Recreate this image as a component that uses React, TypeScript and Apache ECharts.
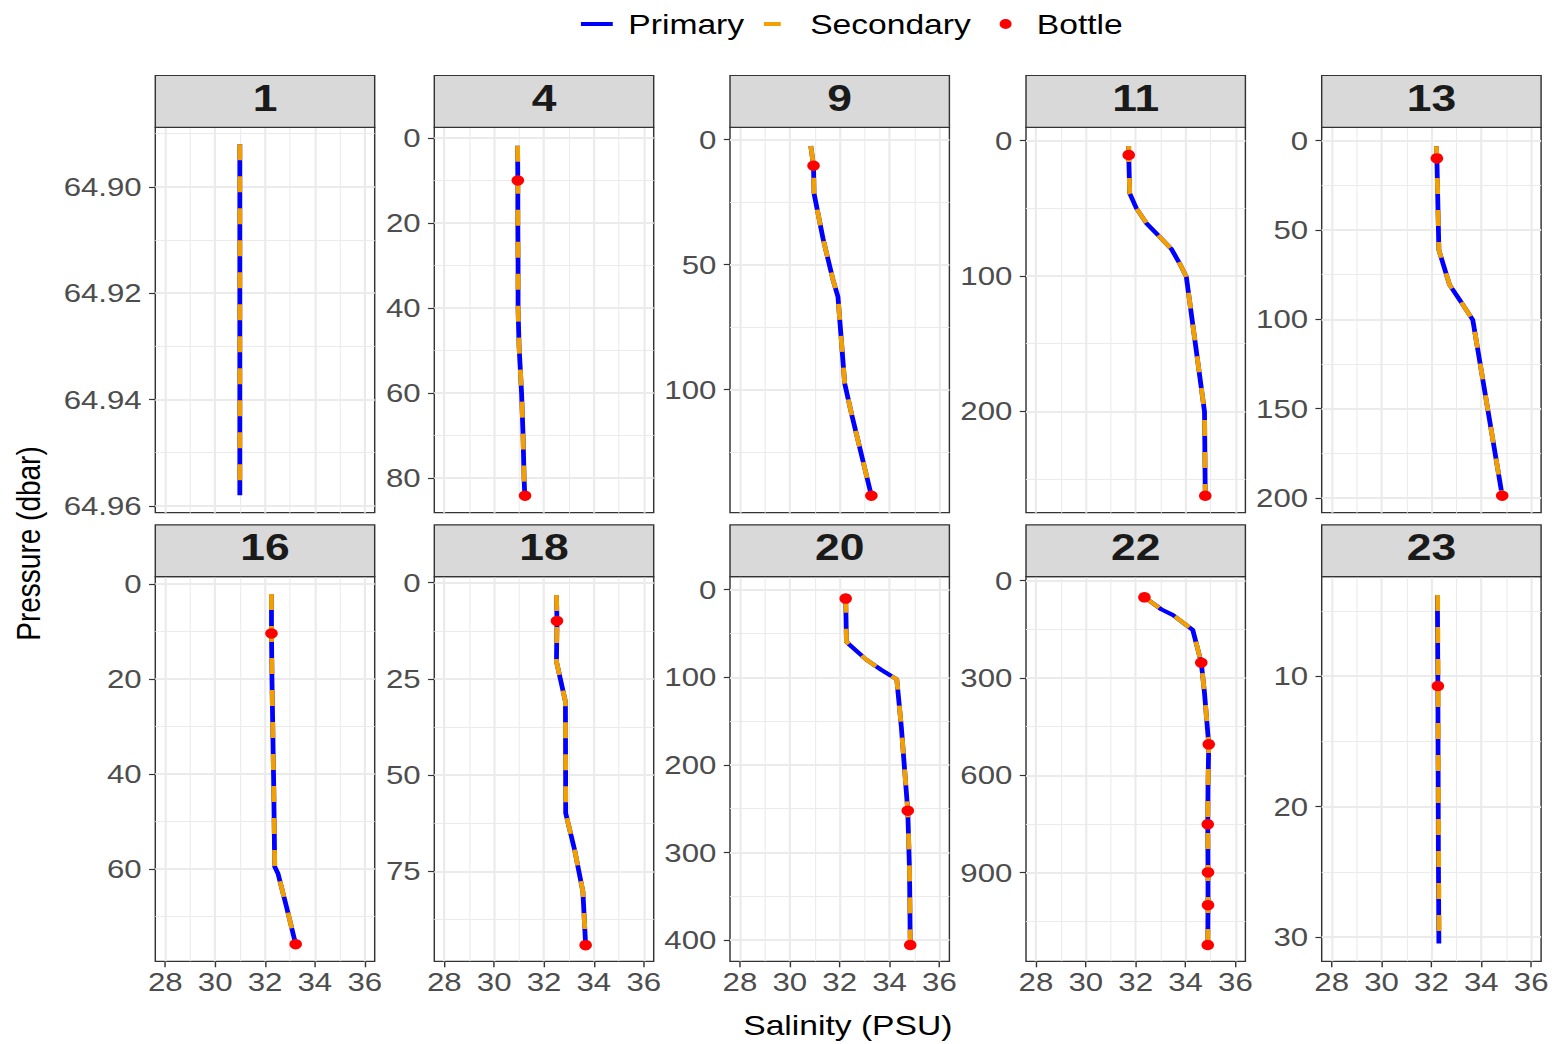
import React, { useEffect, useRef } from "react";
import * as echarts from "echarts";

// ---------------- DATA ----------------
const stations = ["1", "4", "9", "11", "13", "16", "18", "20", "22", "23"];

// CTD profiles: pressure (dbar) and salinity (PSU), primary sensor
const pres01 = [64.892, 64.905, 64.92, 64.935, 64.95, 64.958];
const sal01 = [30.99, 30.99, 30.99, 30.99, 30.99, 30.99];
const pres04 = [1.8, 10, 20, 30, 40, 49, 60, 70, 80, 84.2];
const sal04 = [30.94, 30.95, 30.95, 30.96, 30.96, 31.0, 31.1, 31.16, 31.2, 31.23];
const pres09 = [2.5, 10.4, 21.5, 39.5, 56, 62.8, 97.5, 109.5, 142.4];
const sal09 = [30.84, 30.95, 30.97, 31.33, 31.73, 31.93, 32.2, 32.47, 33.27];
const pres11 = [3.9, 10.6, 38.9, 50, 61, 71, 80, 90.6, 100.5, 151, 200.3, 262.4];
const sal11 = [31.72, 31.72, 31.76, 32.03, 32.43, 32.96, 33.43, 33.76, 34.03, 34.4, 34.76, 34.79];
const pres13 = [3, 9.9, 61.2, 80.7, 89, 100.3, 122.7, 198.7];
const sal13 = [32.2, 32.22, 32.3, 32.73, 33.13, 33.66, 33.93, 34.84];
const pres16 = [2.1, 10.4, 20.2, 42.7, 59.5, 60.9, 67.9, 75.8];
const sal16 = [32.26, 32.26, 32.28, 32.35, 32.39, 32.52, 32.86, 33.23];
const pres18 = [3.2, 9.95, 20.5, 30.9, 59.9, 69.5, 80.3, 94.2];
const sal18 = [32.5, 32.52, 32.5, 32.86, 32.87, 33.23, 33.56, 33.67];
const pres20 = [8, 10.2, 59.3, 63, 80, 91.6, 102.3, 156, 252.3, 320, 405.6];
const sal20 = [32.24, 32.24, 32.27, 32.4, 33.07, 33.67, 34.29, 34.47, 34.73, 34.8, 34.83];
const pres22 = [51.3, 88.4, 105.7, 152, 252.7, 347, 504.4, 635, 751, 899, 1000, 1123];
const sal22 = [32.35, 33.03, 33.49, 34.29, 34.63, 34.76, 34.93, 34.9, 34.89, 34.9, 34.9, 34.89];
const pres23 = [3.79, 10.77, 23.6, 30.5];
const sal23 = [32.24, 32.26, 32.28, 32.3];

// secondary sensor (identical to primary within drawing precision)
const secSal01 = [30.99, 30.99, 30.99, 30.99, 30.99, 30.99];
const secSal04 = [30.94, 30.95, 30.95, 30.96, 30.96, 31.0, 31.1, 31.16, 31.2, 31.23];
const secSal09 = [30.84, 30.95, 30.97, 31.33, 31.73, 31.93, 32.2, 32.47, 33.27];
const secSal11 = [31.72, 31.72, 31.76, 32.03, 32.43, 32.96, 33.43, 33.76, 34.03, 34.4, 34.76, 34.79];
const secSal13 = [32.2, 32.22, 32.3, 32.73, 33.13, 33.66, 33.93, 34.84];
const secSal16 = [32.26, 32.26, 32.28, 32.35, 32.39, 32.52, 32.86, 33.23];
const secSal18 = [32.5, 32.52, 32.5, 32.86, 32.87, 33.23, 33.56, 33.67];
const secSal20 = [32.24, 32.24, 32.27, 32.4, 33.07, 33.67, 34.29, 34.47, 34.73, 34.8, 34.83];
const secSal22 = [32.35, 33.03, 33.49, 34.29, 34.63, 34.76, 34.93, 34.9, 34.89, 34.9, 34.9, 34.89];
const secSal23 = [32.25, 32.27, 32.29, 32.31];

// bottle samples
const botPres01: number[] = [];
const botSal01: number[] = [];
const botPres04 = [10, 84.2];
const botSal04 = [30.95, 31.24];
const botPres09 = [10.4, 142.4];
const botSal09 = [30.95, 33.27];
const botPres11 = [10.6, 262.4];
const botSal11 = [31.72, 34.79];
const botPres13 = [9.9, 198.7];
const botSal13 = [32.22, 34.84];
const botPres16 = [10.4, 75.8];
const botSal16 = [32.26, 33.23];
const botPres18 = [9.95, 94.2];
const botSal18 = [32.52, 33.67];
const botPres20 = [10.2, 252.3, 405.6];
const botSal20 = [32.24, 34.73, 34.83];
const botPres22 = [51.3, 252.7, 504.4, 751, 899, 1000, 1123];
const botSal22 = [32.35, 34.63, 34.93, 34.89, 34.9, 34.9, 34.89];
const botPres23 = [10.77];
const botSal23 = [32.26];

// axis ranges and tick labels
const yMins = [64.8888, -2.52, -4.96, -9.9, -7.5, -1.54, -1.56, -14.8, -12.3, 2.39];
const yMaxs = [64.9613, 88.2, 149.2, 274.9, 208.2, 79.4, 98.4, 424.2, 1173, 31.86];
const yTicks = [
  [64.9, 64.92, 64.94, 64.96],
  [0, 20, 40, 60, 80],
  [0, 50, 100],
  [0, 100, 200],
  [0, 50, 100, 150, 200],
  [0, 20, 40, 60],
  [0, 25, 50, 75],
  [0, 100, 200, 300, 400],
  [0, 300, 600, 900],
  [10, 20, 30],
];
const yMinor = [
  [64.89, 64.91, 64.93, 64.95],
  [10, 30, 50, 70],
  [25, 75, 125],
  [50, 150, 250],
  [25, 75, 125, 175],
  [10, 30, 50, 70],
  [12.5, 37.5, 62.5, 87.5],
  [50, 150, 250, 350],
  [150, 450, 750, 1050],
  [5, 15, 25],
];
const xTicks = [28, 30, 32, 34, 36];
const xMinor = [29, 31, 33, 35];
const X_MIN = 27.6;
const X_MAX = 36.4;

const presList = [pres01, pres04, pres09, pres11, pres13, pres16, pres18, pres20, pres22, pres23];
const salList = [sal01, sal04, sal09, sal11, sal13, sal16, sal18, sal20, sal22, sal23];
const secSalList = [secSal01, secSal04, secSal09, secSal11, secSal13, secSal16, secSal18, secSal20, secSal22, secSal23];
const botPresList = [botPres01, botPres04, botPres09, botPres11, botPres13, botPres16, botPres18, botPres20, botPres22, botPres23];
const botSalList = [botSal01, botSal04, botSal09, botSal11, botSal13, botSal16, botSal18, botSal20, botSal22, botSal23];

// ---------------- LAYOUT / STYLE ----------------
const W = 1552;
const H = 1044;
const IW = 1293;
const S = W / IW; // horizontal stretch of the reference picture
const FONT = "'Liberation Sans', Arial, Helvetica, sans-serif";
const colLeft = [155.3, 434.3, 730, 1026, 1321.7];
const panelW = 219.4;
const rowTop = [127.3, 576.7];
const rowBottom = [512.7, 961.3];
const stripTop = [75.5, 524.8];
const BLUE = "#0000FF";
const ORANGE = "#F29F00";
const RED = "#FF0000";
const GRIDC = "#EBEBEB";
const BORDER = "#333333";

function buildOption() {
  const grids: any[] = [];
  const xAxes: any[] = [];
  const yAxes: any[] = [];
  const series: any[] = [];
  const graphics: any[] = [];

  stations.forEach((st, i) => {
    const r = Math.floor(i / 5);
    const c = i % 5;
    const left = colLeft[c] / S;
    const width = panelW / S;
    const top = rowTop[r];
    const height = rowBottom[r] - rowTop[r];
    const isBottom = r === 1;

    grids.push({
      left,
      top,
      width,
      height,
      show: true,
      backgroundColor: "#FFFFFF",
      borderColor: BORDER,
      borderWidth: 1.2,
      containLabel: false,
      outerBoundsMode: "none",
      z: 0,
    });

    xAxes.push({
      type: "value",
      gridIndex: i,
      min: X_MIN,
      max: X_MAX,
      splitLine: { show: false },
      minorSplitLine: { show: false },
      axisLine: { show: false, onZero: false },
      axisTick: {
        show: isBottom,
        customValues: xTicks,
        length: 6,
        lineStyle: { color: BORDER, width: 1.2 },
      },
      axisLabel: {
        show: isBottom,
        customValues: xTicks,
        fontSize: 26,
        color: "#4D4D4D",
        fontFamily: FONT,
        margin: 8,
      },
    });

    yAxes.push({
      type: "value",
      gridIndex: i,
      inverse: true,
      min: yMins[i],
      max: yMaxs[i],
      splitLine: { show: false },
      minorSplitLine: { show: false },
      axisLine: { show: false, onZero: false },
      axisTick: {
        show: true,
        customValues: yTicks[i],
        length: 5.2,
        lineStyle: { color: BORDER, width: 1.2 },
      },
      axisLabel: {
        show: true,
        customValues: yTicks[i],
        fontSize: 26,
        color: "#4D4D4D",
        fontFamily: FONT,
        margin: 11.3,
        formatter: i === 0 ? (v: number) => v.toFixed(2) : (v: number) => String(Math.round(v)),
      },
    });

    const minorStyle = { color: GRIDC, width: 0.9, type: "solid", opacity: 1 };
    const majorStyleV = { color: GRIDC, width: 1.8, type: "solid", opacity: 1 };
    const majorStyleH = { color: GRIDC, width: 2, type: "solid", opacity: 1 };
    const gridLines = [
      ...xMinor.map((v) => ({ xAxis: v, lineStyle: minorStyle })),
      ...yMinor[i].map((v) => ({ yAxis: v, lineStyle: minorStyle })),
      ...xTicks.map((v) => ({ xAxis: v, lineStyle: majorStyleV })),
      ...yTicks[i].map((v) => ({ yAxis: v, lineStyle: majorStyleH })),
    ];

    series.push({
      type: "line",
      name: "_grid" + st,
      xAxisIndex: i,
      yAxisIndex: i,
      data: [],
      silent: true,
      z: 1,
      markLine: {
        z: 1,
        silent: true,
        symbol: ["none", "none"],
        label: { show: false },
        emphasis: { disabled: true },
        animation: false,
        data: gridLines,
      },
    });

    series.push({
      type: "line",
      name: "Primary",
      xAxisIndex: i,
      yAxisIndex: i,
      data: salList[i].map((s, k) => [s, presList[i][k]]),
      showSymbol: false,
      symbol: "none",
      silent: true,
      z: 6,
      itemStyle: { color: BLUE },
      lineStyle: { color: BLUE, width: 4, cap: "butt", join: "round", opacity: 1 },
    });

    series.push({
      type: "line",
      name: "Secondary",
      xAxisIndex: i,
      yAxisIndex: i,
      data: secSalList[i].map((s, k) => [s, presList[i][k]]),
      showSymbol: false,
      symbol: "none",
      silent: true,
      z: 7,
      itemStyle: { color: ORANGE },
      lineStyle: { color: ORANGE, width: 4, type: [16, 16], cap: "butt", join: "round", opacity: 1 },
    });

    series.push({
      type: "scatter",
      name: "Bottle",
      xAxisIndex: i,
      yAxisIndex: i,
      data: botSalList[i].map((s, k) => [s, botPresList[i][k]]),
      symbol: "circle",
      symbolSize: 10.5,
      silent: true,
      z: 8,
      itemStyle: { color: RED, opacity: 1, borderWidth: 0 },
    });

    // facet strip
    const sTop = stripTop[r];
    const sH = rowTop[r] - sTop;
    graphics.push({
      type: "rect",
      z: 10,
      shape: { x: left, y: sTop, width, height: sH },
      style: { fill: "#D9D9D9", stroke: BORDER, lineWidth: 1.2 },
    });
    graphics.push({
      type: "text",
      z: 11,
      x: left + width / 2,
      y: sTop + sH / 2 - 3.3,
      style: {
        text: st,
        fill: "#1A1A1A",
        fontSize: 37,
        fontWeight: "bold",
        fontFamily: FONT,
        align: "center",
        verticalAlign: "middle",
        textAlign: "center",
        textVerticalAlign: "middle",
      },
    });
  });

  // axis titles
  graphics.push({
    type: "text",
    x: 847.8 / S,
    y: 1025,
    style: {
      text: "Salinity (PSU)",
      fill: "#000000",
      fontSize: 28,
      fontFamily: FONT,
      align: "center",
      verticalAlign: "middle",
      textAlign: "center",
      textVerticalAlign: "middle",
    },
  });
  graphics.push({
    type: "text",
    x: 29 / S,
    y: 543.5,
    rotation: Math.PI / 2,
    style: {
      text: "Pressure (dbar)",
      fill: "#000000",
      fontSize: 28,
      fontFamily: FONT,
      align: "center",
      verticalAlign: "middle",
      textAlign: "center",
      textVerticalAlign: "middle",
    },
  });

  const legend = {
    show: true,
    orient: "horizontal",
    left: 478.5,
    top: 9,
    padding: 0,
    itemGap: 10,
    itemWidth: 40,
    itemHeight: 30,
    selectedMode: false,
    symbolKeepAspect: true,
    itemStyle: { borderWidth: 0 },
    textStyle: { fontSize: 28, color: "#000000", fontFamily: FONT, lineHeight: 30 },
    data: [
      {
        name: "Primary",
        icon: "path://M0,0L0,0M5.5,13L32,13L32,17L5.5,17ZM40,30L40,30",
        itemStyle: { color: BLUE, borderWidth: 0 },
      },
      {
        name: "Secondary",
        icon: "path://M0,0L0,0M6.5,13L20.5,13L20.5,17L6.5,17ZM40,30L40,30",
        itemStyle: { color: ORANGE, borderWidth: 0 },
      },
      {
        name: "Bottle",
        icon: "path://M0,0L0,0M14,15A5,5,0,1,1,24,15A5,5,0,1,1,14,15ZM40,30L40,30",
        itemStyle: { color: RED, borderWidth: 0 },
      },
    ],
  };

  return {
    animation: false,
    backgroundColor: "#FFFFFF",
    textStyle: { fontFamily: FONT },
    legend,
    grid: grids,
    xAxis: xAxes,
    yAxis: yAxes,
    series,
    graphic: { elements: graphics },
  };
}

export default function App() {
  const ref = useRef<HTMLDivElement>(null);
  useEffect(() => {
    if (!ref.current) return;
    const chart = echarts.init(ref.current, null, { renderer: "svg" });
    chart.setOption(buildOption() as any);
    return () => chart.dispose();
  }, []);
  return (
    <div
      style={{
        position: "fixed",
        left: 0,
        top: 0,
        width: W,
        height: H,
        overflow: "hidden",
        background: "#FFFFFF",
      }}
    >
      <div
        ref={ref}
        style={{
          width: IW,
          height: H,
          transform: `scaleX(${S})`,
          transformOrigin: "0 0",
        }}
      />
    </div>
  );
}
